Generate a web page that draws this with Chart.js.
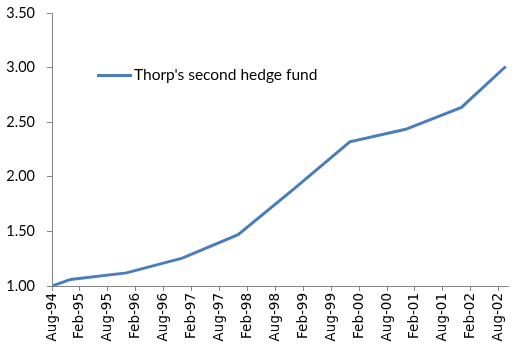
<!DOCTYPE html>
<html>
<head>
<meta charset="utf-8">
<script src="https://cdn.jsdelivr.net/npm/chart.js@4"></script>
<style>
  html, body { margin: 0; padding: 0; background: #fff; }
  #wrap { position: relative; width: 528px; height: 351px; }
  #legend { position: absolute; left: 97px; top: 65px; font: 15.5px Lato, sans-serif; color: #000; white-space: nowrap; }
  #legend span.swatch { display: inline-block; width: 35px; height: 3px; background: #4A7EBB; vertical-align: middle; margin-right: 2px; position: relative; top: -1px; }
</style>
</head>
<body>
<div id="wrap">
  <canvas id="chart" width="528" height="351"></canvas>
  <div id="legend"><span class="swatch"></span><span id="legendText"></span></div>
</div>
<script>
// months counted from Aug-94
const tickLabels = ['Aug-94', 'Feb-95', 'Aug-95', 'Feb-96', 'Aug-96', 'Feb-97', 'Aug-97', 'Feb-98', 'Aug-98',
                    'Feb-99', 'Aug-99', 'Feb-00', 'Aug-00', 'Feb-01', 'Aug-01', 'Feb-02', 'Aug-02'];
const months = [0, 4, 16, 28, 40, 52, 64, 76, 88, 97.5];
const fundValues = [1.00, 1.06, 1.12, 1.255, 1.47, 1.89, 2.32, 2.435, 2.635, 3.01];
const seriesName = "Thorp's second hedge fund";

document.getElementById('legendText').textContent = seriesName;

const axisGray = '#868686';

// keep the tick labels from pushing the plot area around
const noPad = s => { s.paddingTop = 0; s.paddingBottom = 0; s.paddingLeft = 0; s.paddingRight = 0; };

new Chart(document.getElementById('chart'), {
    type: 'line',
    data: {
        datasets: [{
            label: seriesName,
            data: months.map((m, i) => ({ x: m, y: fundValues[i] })),
            borderColor: '#4A7EBB',
            borderWidth: 3,
            pointRadius: 0,
            tension: 0,
            fill: false
        }]
    },
    options: {
        responsive: false,
        animation: false,
        layout: { padding: { left: 0, right: 20, top: 13, bottom: 0 } },
        plugins: { legend: { display: false }, tooltip: { enabled: false } },
        scales: {
            x: {
                type: 'linear',
                min: 0,
                max: 98,
                afterFit: s => { s.height = 65; noPad(s); },
                border: { color: axisGray, width: 1 },
                grid: { drawOnChartArea: false, drawTicks: true, tickLength: 5, color: axisGray },
                ticks: {
                    stepSize: 6,
                    includeBounds: false,
                    autoSkip: false,
                    minRotation: 90,
                    maxRotation: 90,
                    padding: 2,
                    color: '#000',
                    font: { family: 'DejaVu Sans', size: 13.5 },
                    callback: v => tickLabels[v / 6]
                }
            },
            y: {
                min: 1,
                max: 3.5,
                afterFit: s => { s.width = 52; noPad(s); },
                border: { color: axisGray, width: 1 },
                grid: { drawOnChartArea: false, drawTicks: true, tickLength: 5, color: axisGray },
                ticks: {
                    stepSize: 0.5,
                    padding: 12,
                    color: '#000',
                    font: { family: 'Lato', size: 14.5 },
                    callback: v => v.toFixed(2)
                }
            }
        }
    }
});
</script>
</body>
</html>
